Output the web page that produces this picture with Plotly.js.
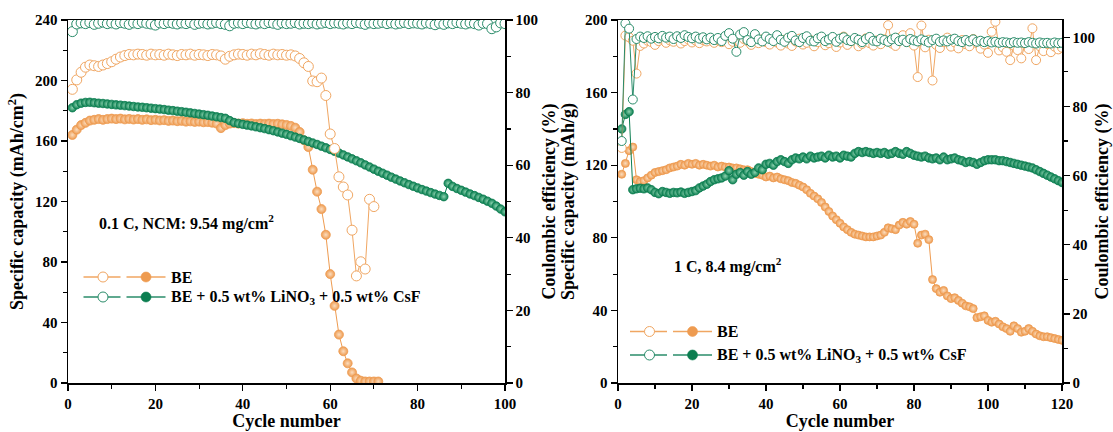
<!DOCTYPE html>
<html>
<head>
<meta charset="utf-8">
<script src="https://cdn.plot.ly/plotly-3.0.1.min.js"></script>
<style>html,body{margin:0;padding:0;background:#fff;}#chart{width:1113px;height:432px;}</style>
</head>
<body>
<div id="chart"></div>
<script>
// ---------- Data ----------
// Left panel: 0.1 C, NCM 9.54 mg/cm2
const leftBeCap = [
164,167.5,170.5,172,173.5,174,174.5,174,174.5,174.8,
174.5,174.8,174.3,174.6,174.2,174.5,174,174.3,173.8,174,
173.6,173.8,173.3,173.5,173.1,173.3,172.8,173,172.6,172.8,
172.4,172.5,172.1,171.5,168.5,170.5,171.5,171.8,171.5,171.8,
171.4,171.6,171.2,171.5,171.3,171.5,171.2,171.4,171,170.6,
170,168.8,166,160.5,156,141,126.5,115,98,72,
51,32,21,13,7,3,1.5,1,1,1,
1];
const leftBeCe = [
80.9,83.5,85.6,87,87.6,87.4,87.2,87.6,88,88.5,
89.2,89.8,90.2,90.5,90.4,90.6,90.5,90.3,90.6,90.4,
90.5,90.3,90.6,90.4,90.2,90.5,90.4,90.6,90.3,90.5,
90.4,90.2,90.5,90.4,90.1,89.2,90,90.4,90.6,90.5,
90.3,90.6,90.4,90.7,90.5,90.3,90.6,90.4,90.5,90.3,
90.4,90.1,89.4,88.2,87.2,83.2,83,84,79.2,68.6,
64.6,56.8,54,51.8,42.1,29.5,33.4,31.4,50.6,48.6];
const leftAddCap = [
182,184,185,185.5,185.6,185.3,185,184.8,184.5,184.2,
183.9,183.7,183.4,183.1,182.8,182.5,182.3,182,181.7,181.4,
181.1,180.8,180.4,180.1,179.7,179.4,179,178.6,178.2,177.8,
177.4,177,176.5,176,175.5,175,173.5,172.2,171.6,171,
170.5,170,169.4,168.8,168.2,167.5,166.8,166,165.2,164.4,
163.5,162.6,161.7,160.7,159.7,158.7,157.7,156.6,155.5,154.4,
153.2,152,150.8,149.5,148.2,146.9,145.6,144.2,142.8,141.4,
140,138.7,137.4,136.1,134.8,133.6,132.4,131.2,130.1,129,
127.9,126.9,125.9,124.9,124,123.2,132,130,128.6,127.4,
126.2,125,123.9,122.7,121.5,120.2,118.8,117,115,113.2];
const leftAddCe = [
96.8,98.9,99.2,99.0,99.3,98.8,99.1,99.4,99.0,99.2,
98.9,99.3,99.1,98.8,99.2,99.0,99.4,99.1,98.9,98.6,
99.2,99.0,99.3,99.1,98.9,99.2,99.0,99.3,98.8,99.1,
99.2,98.9,99.1,99.3,99.0,98.8,98.4,99.1,99.2,99.0,
99.3,99.1,98.9,99.2,99.0,99.3,99.1,98.8,99.2,99.0,
99.1,99.3,98.9,99.1,99.0,99.2,98.9,99.1,99.3,99.0,
99.2,99.1,98.9,99.2,99.0,99.3,99.1,98.8,99.2,99.0,
99.1,99.3,99.0,99.2,98.9,99.1,99.3,99.0,99.2,99.1,
98.9,99.2,99.0,98.7,99.1,98.8,99.2,99.0,99.3,99.1,
98.9,99.2,99.0,98.6,99.1,99.0,97.6,98.1,99.2,99.0];

// Right panel: 1 C, 8.4 mg/cm2
const rightBeCap = [
115,121,128,130,112,111,111.5,113,114.5,116,
116.5,117,117.5,118.5,119,119.5,120.5,120,121,120.5,
121,120,120.5,120,119.5,120,119,119.5,119,119,
118.5,118.5,118,117.5,117.5,116.5,115.5,115,114.5,113.5,
114,113,113.5,112.5,112,111.5,110.5,110,109,108,
106.5,104.5,103,101.5,99.5,97,94.5,92,90,88,
86,84.5,83,82,81.5,81,80.5,80.5,80.5,81,
81.5,83,85.5,85,84.5,87,88.5,87.5,89,87.5,
77,81.5,82,79,57,52,50,51,48,46.5,
47,45.5,44,42.5,42,41,36,36.5,37,34.5,
33.5,34,32.5,31,30,28.5,31.5,30,28,28.5,
30,28.5,27,26,25.5,25.5,25,24.5,24,23.5];
const rightBeCe = [
68,100.5,100,99,89.5,97.5,98.2,99,98.6,97.8,
98.9,99.3,98.4,99.1,98.7,99.5,98.2,98.9,99.4,98.5,
99.0,98.3,99.2,98.8,99.6,98.4,99.1,98.6,99.3,98.0,
98.7,99.2,98.4,99.5,98.9,97.8,99.0,98.3,99.4,98.6,
97.9,99.1,98.5,97.6,99.3,98.2,97.5,98.8,99.6,97.9,
98.4,99.2,97.4,98.6,99.8,97.7,98.3,99.0,97.2,98.5,
100.2,97.8,98.9,99.5,97.4,98.1,99.7,98.3,97.6,99.1,
98.0,99.4,103.5,98.2,97.5,99.8,100.6,98.7,101.2,97.6,
88.5,103.4,97.1,99.3,87.5,97.8,96.9,98.6,99.9,97.3,
98.5,96.8,99.2,98.0,97.4,99.5,98.3,96.7,97.9,95.5,
101.6,104.5,96.2,97.1,95.8,93.4,97.6,96.3,93.9,98.2,
96.6,102.6,93.4,97.4,96.0,98.1,95.7,97.3,96.5,97.0];
const rightAddCap = [
140,148,149.5,106.5,107,107.3,107,107.5,106.5,105,
104.3,105.5,105,104.5,105,104.8,105.2,104.5,105,105.5,
106,107.5,108.5,109.5,111,112,112.5,113,114,117,
112,115,116,114.5,116.5,115,116,118.5,117.5,120.5,
121,120,122,123,122,121,123,124,123.5,124.5,
123.5,125,124,124.5,125,124,125.5,124.5,125,124,
125.5,125,124.5,126.5,127.5,127,127.5,127,126.5,127,
126.5,127,126,126.5,127.5,126.5,126,127.5,126.5,125.5,
125,124.5,125,124,123.5,124,123,124.5,123,123.5,
124,123,122.5,121.5,122,121.5,120.5,121.5,122.5,123,
123,123,122.5,122.5,122,121.5,121,120.5,120,119.5,
119,118.5,117.5,116.5,115.5,114.5,113.5,112.5,111.5,110.5];
const rightAddCe = [
70,104,102.5,82,99.5,100.2,99.8,100.3,99.6,100.1,
99.7,100.4,99.9,100.2,99.5,100.3,99.8,100.6,100.1,99.7,
100.2,99.6,100.0,99.4,99.9,99.2,99.8,98.9,100.4,101.2,
99.6,95.8,100.8,101.5,99.2,98.6,100.9,99.4,98.8,100.2,
99.5,98.9,100.6,99.3,98.7,99.9,100.4,99.1,98.6,99.8,
100.3,99.0,98.8,99.7,100.2,98.9,99.4,100.1,98.7,99.6,
100.0,99.2,98.9,99.8,99.3,98.6,99.5,100.1,99.0,98.8,
99.6,99.2,98.7,99.4,99.9,98.9,99.3,98.6,99.5,99.1,
98.8,99.4,99.0,98.5,99.2,99.6,98.7,99.1,98.8,99.3,
99.6,98.9,98.6,99.2,98.8,99.4,98.7,99.0,98.6,98.9,
98.5,98.7,98.4,98.6,98.5,98.3,98.6,98.4,98.5,98.3,
98.6,98.4,98.2,98.5,98.3,98.4,98.2,98.5,98.3,98.4];

const seriesNames = ['BE', 'BE + 0.5 wt% LiNO<sub>3</sub> + 0.5 wt% CsF'];
const panelNotes = ['0.1 C, NCM: 9.54 mg/cm<sup>2</sup>', '1 C, 8.4 mg/cm<sup>2</sup>'];

// ---------- Styling ----------
const ORANGE = '#EE9B50', ORANGE_OPEN = '#F0A662', ORANGE_LIGHT = '#FBDDBF';
const GREEN = '#0B7E50', GREEN_OPEN = '#2A8C6A', GREEN_LIGHT = '#8ED3B0';
const FONT = 'Liberation Serif, Times New Roman, serif';
const cyc = a => a.map((_, i) => i + 1);

function openTrace(y, color, xa, ya, size) {
  return {x: cyc(y), y: y, xaxis: xa, yaxis: ya, type: 'scatter', mode: 'lines+markers',
    line: {color: color, width: 1}, showlegend: false, hoverinfo: 'skip',
    marker: {symbol: 'circle', size: size, color: 'white', line: {color: color, width: 1}}};
}
function fillTrace(y, color, light, xa, ya, size) {
  return {x: cyc(y), y: y, xaxis: xa, yaxis: ya, type: 'scatter', mode: 'lines+markers',
    line: {color: color, width: 1}, showlegend: false, hoverinfo: 'skip',
    marker: {symbol: 'circle', size: size, color: color, gradient: {type: 'radial', color: light},
             line: {color: color, width: 0.8}}};
}

const traces = [
  fillTrace(leftBeCap, ORANGE, ORANGE_LIGHT, 'x', 'y', 9),
  fillTrace(leftAddCap, GREEN, GREEN_LIGHT, 'x', 'y', 8.5),
  openTrace(leftAddCe, GREEN_OPEN, 'x', 'y2', 10),
  openTrace(leftBeCe, ORANGE_OPEN, 'x', 'y2', 10),
  fillTrace(rightBeCap, ORANGE, ORANGE_LIGHT, 'x2', 'y3', 8),
  fillTrace(rightAddCap, GREEN, GREEN_LIGHT, 'x2', 'y3', 8.5),
  openTrace(rightBeCe, ORANGE_OPEN, 'x2', 'y4', 9),
  openTrace(rightAddCe, GREEN_OPEN, 'x2', 'y4', 9),
];

const tickFont = {family: FONT, size: 15, color: '#000', weight: 'bold'};
const titleFont = {family: FONT, size: 18, color: '#000', weight: 'bold'};
function axis(extra) {
  return Object.assign({
    showline: true, linecolor: '#000', linewidth: 1.5, ticks: 'outside', ticklen: 6,
    tickwidth: 1.3, tickcolor: '#000', showgrid: false, zeroline: false, tickfont: tickFont,
    fixedrange: true
  }, extra);
}
const minorX = {dtick: 10, ticklen: 4, ticks: 'outside', tickcolor: '#000', tickwidth: 1.2};

const W = 1113, T = 20, B = 383;
const px = v => v / W;
const py = v => (B - v) / (B - T);

const layout = {
  width: 1113, height: 432,
  margin: {l: 0, r: 0, t: 20, b: 49},
  paper_bgcolor: '#fff', plot_bgcolor: 'rgba(0,0,0,0)',
  showlegend: false,
  xaxis: axis({domain: [px(68), px(505)], range: [0, 100], dtick: 20, anchor: 'y', mirror: true,
    minor: minorX, title: {text: 'Cycle number', font: titleFont, standoff: 1}}),
  yaxis: axis({range: [0, 240], dtick: 40, anchor: 'x',
    minor: Object.assign({}, minorX, {dtick: 20}),
    title: {text: 'Specific capacity (mAh/cm<sup>2</sup>)', font: titleFont, standoff: 6}}),
  yaxis2: axis({range: [0, 100], dtick: 20, anchor: 'x', overlaying: 'y', side: 'right',
    minor: minorX, title: {text: 'Coulombic efficiency (%)', font: titleFont, standoff: 5}}),
  xaxis2: axis({domain: [px(618), px(1062)], range: [0, 120], dtick: 20, anchor: 'y3', mirror: true,
    minor: minorX, title: {text: 'Cycle number', font: titleFont, standoff: 1}}),
  yaxis3: axis({range: [0, 200], dtick: 40, anchor: 'x2',
    minor: Object.assign({}, minorX, {dtick: 20}),
    title: {text: 'Specific capacity (mAh/g)', font: titleFont, standoff: 5}}),
  yaxis4: axis({range: [0, 105], dtick: 20, anchor: 'x2', overlaying: 'y3', side: 'right',
    minor: minorX, title: {text: 'Coulombic efficiency (%)', font: titleFont, standoff: 6}}),
  shapes: [], annotations: []
};

const textFont = {family: FONT, size: 16, color: '#000', weight: 'bold'};
// panel notes
layout.annotations.push({xref: 'paper', yref: 'paper', x: px(97), y: py(222), xanchor: 'left', yanchor: 'middle',
  text: panelNotes[0], showarrow: false, font: textFont});
layout.annotations.push({xref: 'paper', yref: 'paper', x: px(672), y: py(265), xanchor: 'left', yanchor: 'middle',
  text: panelNotes[1], showarrow: false, font: textFont});

// custom legends (open + filled symbol per series)
function legendRow(x0, yPix, color, openColor, label) {
  const y = py(yPix);
  layout.shapes.push({type: 'line', xref: 'paper', yref: 'paper', x0: px(x0), x1: px(x0 + 37), y0: y, y1: y,
    line: {color: openColor, width: 1.3}});
  layout.shapes.push({type: 'line', xref: 'paper', yref: 'paper', x0: px(x0 + 43), x1: px(x0 + 82), y0: y, y1: y,
    line: {color: openColor, width: 1.3}});
  layout.shapes.push({type: 'circle', xref: 'paper', yref: 'paper', xsizemode: 'pixel', ysizemode: 'pixel',
    xanchor: px(x0 + 19.5), yanchor: y, x0: -5, x1: 5, y0: -5, y1: 5,
    fillcolor: 'white', line: {color: openColor, width: 1}});
  layout.shapes.push({type: 'circle', xref: 'paper', yref: 'paper', xsizemode: 'pixel', ysizemode: 'pixel',
    xanchor: px(x0 + 62.5), yanchor: y, x0: -5, x1: 5, y0: -5, y1: 5,
    fillcolor: color, line: {color: color, width: 0.6}});
  layout.annotations.push({xref: 'paper', yref: 'paper', x: px(x0 + 85), y: y, xanchor: 'left', yanchor: 'middle',
    text: label, showarrow: false, font: textFont});
}
legendRow(83.5, 277, ORANGE, ORANGE_OPEN, seriesNames[0]);
legendRow(83.5, 297, GREEN, GREEN_OPEN, seriesNames[1]);
legendRow(630, 331.5, ORANGE, ORANGE_OPEN, seriesNames[0]);
legendRow(630, 355, GREEN, GREEN_OPEN, seriesNames[1]);

Plotly.newPlot('chart', traces, layout, {staticPlot: true, displayModeBar: false});
</script>
</body>
</html>
